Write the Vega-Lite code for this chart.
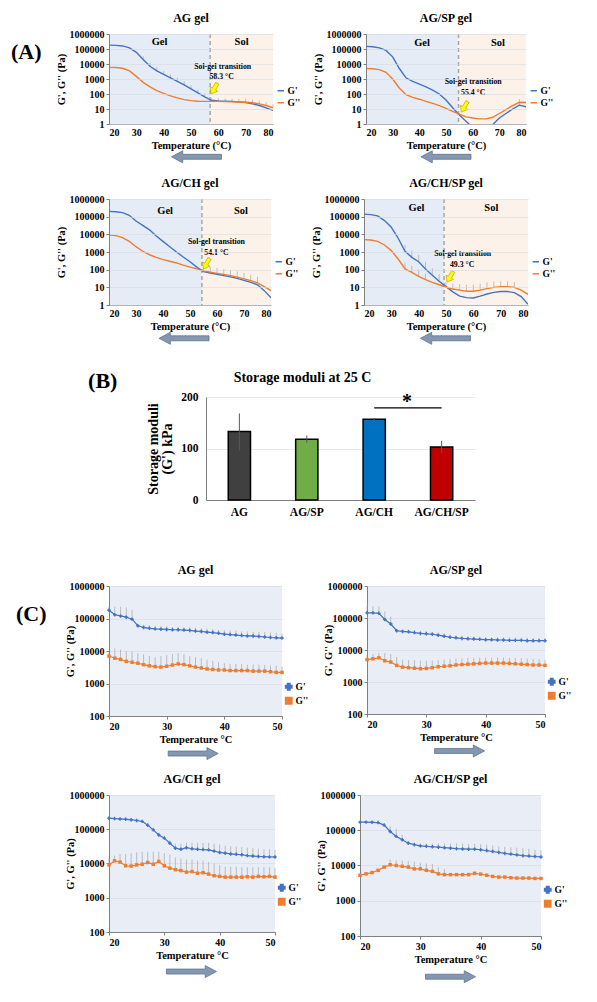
{
"$schema":"https://vega.github.io/schema/vega-lite/v6.json",
"padding":{"left":10,"top":12,"right":2,"bottom":2},
"background":"#ffffff",
"spacing":24,
"resolve":{"scale":{"color":"independent","shape":"independent"},"legend":{"color":"independent","shape":"independent"}},
"datasets":{
"reg":[
{"p":"A1","r":"Gel","t":20,"t2":57},{"p":"A1","r":"Sol","t":57,"t2":80},
{"p":"A2","r":"Gel","t":20,"t2":54.7},{"p":"A2","r":"Sol","t":54.7,"t2":80},
{"p":"A3","r":"Gel","t":20,"t2":54.4},{"p":"A3","r":"Sol","t":54.4,"t2":80},
{"p":"A4","r":"Gel","t":20,"t2":49.3},{"p":"A4","r":"Sol","t":49.3,"t2":80}
],
"ann":[
{"p":"A1","k":"r","t":38.5,"v":300000,"lab":"Gel"},{"p":"A1","k":"r","t":68.5,"v":300000,"lab":"Sol"},
{"p":"A1","k":"s","t":61.6,"v":6600,"lab":"Sol-gel transition"},{"p":"A1","k":"s","t":61.2,"v":1300,"lab":"58.3 °C"},
{"p":"A2","k":"r","t":41,"v":260000,"lab":"Gel"},{"p":"A2","k":"r","t":69.5,"v":260000,"lab":"Sol"},
{"p":"A2","k":"s","t":60.2,"v":600,"lab":"Sol-gel transition"},{"p":"A2","k":"s","t":60.2,"v":110,"lab":"55.4 °C"},
{"p":"A3","k":"r","t":40.8,"v":200000,"lab":"Gel"},{"p":"A3","k":"r","t":68.9,"v":200000,"lab":"Sol"},
{"p":"A3","k":"s","t":59.8,"v":3800,"lab":"Sol-gel transition"},{"p":"A3","k":"s","t":59.8,"v":900,"lab":"54.1 °C"},
{"p":"A4","k":"r","t":39.2,"v":330000,"lab":"Gel"},{"p":"A4","k":"r","t":66.6,"v":330000,"lab":"Sol"},
{"p":"A4","k":"s","t":56.1,"v":800,"lab":"Sol-gel transition"},{"p":"A4","k":"s","t":55.9,"v":190,"lab":"49.3 °C"}
],
"yel":[
{"p":"A1","t":58.5,"v":230},{"p":"A2","t":56.9,"v":14},{"p":"A3","t":56.1,"v":220},{"p":"A4","t":51.5,"v":40}
],
"arr":[
{"p":"A1","t":52,"v":0.0065},{"p":"A2","t":50,"v":0.0065},{"p":"A3","t":47.8,"v":0.013},{"p":"A4","t":49.8,"v":0.013},
{"p":"C1","t":34.6,"v":7},{"p":"C2","t":35.6,"v":7},{"p":"C3","t":34.9,"v":7},{"p":"C4","t":35,"v":7}
],
"bars":[
{"g":"AG","v":133,"lo":96,"hi":168},
{"g":"AG/SP","v":118,"lo":111,"hi":125},
{"g":"AG/CH","v":157,"lo":155,"hi":159},
{"g":"AG/CH/SP","v":103,"lo":91,"hi":115}
],
"cur":[
{"p":"A1","s":"G'","t":20,"v":180000},{"p":"A1","s":"G'","t":22.5,"v":175000},{"p":"A1","s":"G'","t":25,"v":160000},{"p":"A1","s":"G'","t":27.5,"v":120000},{"p":"A1","s":"G'","t":30,"v":60000},{"p":"A1","s":"G'","t":32.5,"v":20000,"h":32000},{"p":"A1","s":"G'","t":35,"v":7000,"h":12000},{"p":"A1","s":"G'","t":37.5,"v":3500,"h":6000},{"p":"A1","s":"G'","t":40,"v":2000,"h":3400},{"p":"A1","s":"G'","t":42.5,"v":1200,"h":2000},{"p":"A1","s":"G'","t":45,"v":700,"h":1200},{"p":"A1","s":"G'","t":47.5,"v":400,"h":700},{"p":"A1","s":"G'","t":50,"v":220,"h":380},{"p":"A1","s":"G'","t":52.5,"v":120,"h":200},{"p":"A1","s":"G'","t":55,"v":65,"h":110},{"p":"A1","s":"G'","t":57.5,"v":38},{"p":"A1","s":"G'","t":60,"v":34},{"p":"A1","s":"G'","t":62.5,"v":33},{"p":"A1","s":"G'","t":65,"v":32},{"p":"A1","s":"G'","t":67.5,"v":30},{"p":"A1","s":"G'","t":70,"v":27},{"p":"A1","s":"G'","t":72.5,"v":22},{"p":"A1","s":"G'","t":75,"v":17},{"p":"A1","s":"G'","t":77.5,"v":12},{"p":"A1","s":"G'","t":80,"v":8},
{"p":"A1","s":"G''","t":20,"v":6000},{"p":"A1","s":"G''","t":22.5,"v":5800},{"p":"A1","s":"G''","t":25,"v":5200},{"p":"A1","s":"G''","t":27.5,"v":3500},{"p":"A1","s":"G''","t":30,"v":1500},{"p":"A1","s":"G''","t":32.5,"v":600},{"p":"A1","s":"G''","t":35,"v":300},{"p":"A1","s":"G''","t":37.5,"v":170},{"p":"A1","s":"G''","t":40,"v":110},{"p":"A1","s":"G''","t":42.5,"v":75},{"p":"A1","s":"G''","t":45,"v":55},{"p":"A1","s":"G''","t":47.5,"v":42},{"p":"A1","s":"G''","t":50,"v":36},{"p":"A1","s":"G''","t":52.5,"v":33},{"p":"A1","s":"G''","t":55,"v":32},{"p":"A1","s":"G''","t":57.5,"v":32,"h":52},{"p":"A1","s":"G''","t":60,"v":32,"h":52},{"p":"A1","s":"G''","t":62.5,"v":31,"h":50},{"p":"A1","s":"G''","t":65,"v":30,"h":50},{"p":"A1","s":"G''","t":67.5,"v":29,"h":48},{"p":"A1","s":"G''","t":70,"v":28,"h":46},{"p":"A1","s":"G''","t":72.5,"v":26,"h":42},{"p":"A1","s":"G''","t":75,"v":22,"h":36},{"p":"A1","s":"G''","t":77.5,"v":17,"h":28},{"p":"A1","s":"G''","t":80,"v":12,"h":20},
{"p":"A2","s":"G'","t":20,"v":150000},{"p":"A2","s":"G'","t":22.5,"v":140000},{"p":"A2","s":"G'","t":25,"v":120000},{"p":"A2","s":"G'","t":27.5,"v":80000},{"p":"A2","s":"G'","t":30,"v":30000},{"p":"A2","s":"G'","t":32.5,"v":5000},{"p":"A2","s":"G'","t":35,"v":1200},{"p":"A2","s":"G'","t":37.5,"v":700},{"p":"A2","s":"G'","t":40,"v":450},{"p":"A2","s":"G'","t":42.5,"v":300},{"p":"A2","s":"G'","t":45,"v":180},{"p":"A2","s":"G'","t":47.5,"v":100},{"p":"A2","s":"G'","t":50,"v":40},{"p":"A2","s":"G'","t":52.5,"v":12},{"p":"A2","s":"G'","t":55,"v":4},{"p":"A2","s":"G'","t":57.5,"v":1.5},{"p":"A2","s":"G'","t":60,"v":0.6},{"p":"A2","s":"G'","t":62.5,"v":0.3},{"p":"A2","s":"G'","t":65,"v":0.3},{"p":"A2","s":"G'","t":67.5,"v":0.9},{"p":"A2","s":"G'","t":70,"v":2.5},{"p":"A2","s":"G'","t":72.5,"v":5},{"p":"A2","s":"G'","t":75,"v":10},{"p":"A2","s":"G'","t":77.5,"v":18,"h":28},{"p":"A2","s":"G'","t":80,"v":14},
{"p":"A2","s":"G''","t":20,"v":5000},{"p":"A2","s":"G''","t":22.5,"v":4800},{"p":"A2","s":"G''","t":25,"v":4200},{"p":"A2","s":"G''","t":27.5,"v":2800},{"p":"A2","s":"G''","t":30,"v":1000},{"p":"A2","s":"G''","t":32.5,"v":250},{"p":"A2","s":"G''","t":35,"v":90},{"p":"A2","s":"G''","t":37.5,"v":60},{"p":"A2","s":"G''","t":40,"v":45},{"p":"A2","s":"G''","t":42.5,"v":32},{"p":"A2","s":"G''","t":45,"v":24},{"p":"A2","s":"G''","t":47.5,"v":17},{"p":"A2","s":"G''","t":50,"v":11},{"p":"A2","s":"G''","t":52.5,"v":7},{"p":"A2","s":"G''","t":55,"v":4.5},{"p":"A2","s":"G''","t":57.5,"v":3},{"p":"A2","s":"G''","t":60,"v":2.5},{"p":"A2","s":"G''","t":62.5,"v":2.2},{"p":"A2","s":"G''","t":65,"v":2.2},{"p":"A2","s":"G''","t":67.5,"v":2.8},{"p":"A2","s":"G''","t":70,"v":5},{"p":"A2","s":"G''","t":72.5,"v":9},{"p":"A2","s":"G''","t":75,"v":17},{"p":"A2","s":"G''","t":77.5,"v":28,"h":45},{"p":"A2","s":"G''","t":80,"v":27},
{"p":"A3","s":"G'","t":20,"v":200000},{"p":"A3","s":"G'","t":22.5,"v":190000},{"p":"A3","s":"G'","t":25,"v":170000},{"p":"A3","s":"G'","t":27.5,"v":120000},{"p":"A3","s":"G'","t":30,"v":57000},{"p":"A3","s":"G'","t":32.5,"v":32000},{"p":"A3","s":"G'","t":35,"v":18000},{"p":"A3","s":"G'","t":37.5,"v":8000},{"p":"A3","s":"G'","t":40,"v":4000},{"p":"A3","s":"G'","t":42.5,"v":2000},{"p":"A3","s":"G'","t":45,"v":1000},{"p":"A3","s":"G'","t":47.5,"v":520},{"p":"A3","s":"G'","t":50,"v":280},{"p":"A3","s":"G'","t":52.5,"v":140},{"p":"A3","s":"G'","t":55,"v":78},{"p":"A3","s":"G'","t":57.5,"v":65},{"p":"A3","s":"G'","t":60,"v":55},{"p":"A3","s":"G'","t":62.5,"v":46},{"p":"A3","s":"G'","t":65,"v":39},{"p":"A3","s":"G'","t":67.5,"v":32},{"p":"A3","s":"G'","t":70,"v":25},{"p":"A3","s":"G'","t":72.5,"v":19},{"p":"A3","s":"G'","t":75,"v":14},{"p":"A3","s":"G'","t":77.5,"v":6.5},{"p":"A3","s":"G'","t":80,"v":2.6},
{"p":"A3","s":"G''","t":20,"v":9000},{"p":"A3","s":"G''","t":22.5,"v":8500},{"p":"A3","s":"G''","t":25,"v":6500},{"p":"A3","s":"G''","t":27.5,"v":4000},{"p":"A3","s":"G''","t":30,"v":2000},{"p":"A3","s":"G''","t":32.5,"v":1100},{"p":"A3","s":"G''","t":35,"v":700},{"p":"A3","s":"G''","t":37.5,"v":500},{"p":"A3","s":"G''","t":40,"v":370},{"p":"A3","s":"G''","t":42.5,"v":300},{"p":"A3","s":"G''","t":45,"v":240},{"p":"A3","s":"G''","t":47.5,"v":180},{"p":"A3","s":"G''","t":50,"v":140},{"p":"A3","s":"G''","t":52.5,"v":110},{"p":"A3","s":"G''","t":55,"v":85,"h":150},{"p":"A3","s":"G''","t":57.5,"v":72,"h":140},{"p":"A3","s":"G''","t":60,"v":62,"h":125},{"p":"A3","s":"G''","t":62.5,"v":54,"h":110},{"p":"A3","s":"G''","t":65,"v":46,"h":95},{"p":"A3","s":"G''","t":67.5,"v":38,"h":80},{"p":"A3","s":"G''","t":70,"v":30,"h":65},{"p":"A3","s":"G''","t":72.5,"v":24,"h":52},{"p":"A3","s":"G''","t":75,"v":18,"h":40},{"p":"A3","s":"G''","t":77.5,"v":11},{"p":"A3","s":"G''","t":80,"v":6.5},
{"p":"A4","s":"G'","t":20,"v":140000},{"p":"A4","s":"G'","t":22.5,"v":130000},{"p":"A4","s":"G'","t":25,"v":110000},{"p":"A4","s":"G'","t":27.5,"v":60000},{"p":"A4","s":"G'","t":30,"v":25000},{"p":"A4","s":"G'","t":32.5,"v":6000},{"p":"A4","s":"G'","t":35,"v":1100,"h":2500},{"p":"A4","s":"G'","t":37.5,"v":500,"h":1200},{"p":"A4","s":"G'","t":40,"v":280,"h":700},{"p":"A4","s":"G'","t":42.5,"v":110,"h":280},{"p":"A4","s":"G'","t":45,"v":48,"h":120},{"p":"A4","s":"G'","t":47.5,"v":22,"h":55},{"p":"A4","s":"G'","t":50,"v":11},{"p":"A4","s":"G'","t":52.5,"v":5.5},{"p":"A4","s":"G'","t":55,"v":3.2},{"p":"A4","s":"G'","t":57.5,"v":2.6},{"p":"A4","s":"G'","t":60,"v":2.5},{"p":"A4","s":"G'","t":62.5,"v":3.2},{"p":"A4","s":"G'","t":65,"v":4.2},{"p":"A4","s":"G'","t":67.5,"v":5.2},{"p":"A4","s":"G'","t":70,"v":5.8},{"p":"A4","s":"G'","t":72.5,"v":5.8},{"p":"A4","s":"G'","t":75,"v":5},{"p":"A4","s":"G'","t":77.5,"v":3},{"p":"A4","s":"G'","t":80,"v":1.1},
{"p":"A4","s":"G''","t":20,"v":5000},{"p":"A4","s":"G''","t":22.5,"v":4800},{"p":"A4","s":"G''","t":25,"v":4000},{"p":"A4","s":"G''","t":27.5,"v":2500},{"p":"A4","s":"G''","t":30,"v":1200},{"p":"A4","s":"G''","t":32.5,"v":400},{"p":"A4","s":"G''","t":35,"v":110,"h":250},{"p":"A4","s":"G''","t":37.5,"v":70,"h":160},{"p":"A4","s":"G''","t":40,"v":42,"h":100},{"p":"A4","s":"G''","t":42.5,"v":27,"h":60},{"p":"A4","s":"G''","t":45,"v":19},{"p":"A4","s":"G''","t":47.5,"v":14},{"p":"A4","s":"G''","t":50,"v":10.5,"h":20},{"p":"A4","s":"G''","t":52.5,"v":8,"h":16},{"p":"A4","s":"G''","t":55,"v":7,"h":15},{"p":"A4","s":"G''","t":57.5,"v":6,"h":14},{"p":"A4","s":"G''","t":60,"v":6,"h":14},{"p":"A4","s":"G''","t":62.5,"v":7,"h":16},{"p":"A4","s":"G''","t":65,"v":8.5,"h":19},{"p":"A4","s":"G''","t":67.5,"v":10,"h":21},{"p":"A4","s":"G''","t":70,"v":11,"h":22},{"p":"A4","s":"G''","t":72.5,"v":11,"h":22},{"p":"A4","s":"G''","t":75,"v":10,"h":20},{"p":"A4","s":"G''","t":77.5,"v":7},{"p":"A4","s":"G''","t":80,"v":4},
{"p":"C1","s":"G'","t":20,"v":180000,"h":240000},{"p":"C1","s":"G'","t":21,"v":130000,"h":230000},{"p":"C1","s":"G'","t":22,"v":120000,"h":230000},{"p":"C1","s":"G'","t":23,"v":110000,"h":220000},{"p":"C1","s":"G'","t":24,"v":95000,"h":180000},{"p":"C1","s":"G'","t":25,"v":60000,"h":70000},{"p":"C1","s":"G'","t":26,"v":53000,"h":65000},{"p":"C1","s":"G'","t":27,"v":50000,"h":62000},{"p":"C1","s":"G'","t":28,"v":48000,"h":60000},{"p":"C1","s":"G'","t":29,"v":47000,"h":58000},{"p":"C1","s":"G'","t":30,"v":46000,"h":57000},{"p":"C1","s":"G'","t":31,"v":45000,"h":55000},{"p":"C1","s":"G'","t":32,"v":45000,"h":55000},{"p":"C1","s":"G'","t":33,"v":44000,"h":54000},{"p":"C1","s":"G'","t":34,"v":43000,"h":53000},{"p":"C1","s":"G'","t":35,"v":41000,"h":52000},{"p":"C1","s":"G'","t":36,"v":40000,"h":50000},{"p":"C1","s":"G'","t":37,"v":38000,"h":48000},{"p":"C1","s":"G'","t":38,"v":37000,"h":47000},{"p":"C1","s":"G'","t":39,"v":35000,"h":45000},{"p":"C1","s":"G'","t":40,"v":33000,"h":44000},{"p":"C1","s":"G'","t":41,"v":32000,"h":43000},{"p":"C1","s":"G'","t":42,"v":31000,"h":42000},{"p":"C1","s":"G'","t":43,"v":30000,"h":40000},{"p":"C1","s":"G'","t":44,"v":29000,"h":40000},{"p":"C1","s":"G'","t":45,"v":29000,"h":39000},{"p":"C1","s":"G'","t":46,"v":28000,"h":39000},{"p":"C1","s":"G'","t":47,"v":27000,"h":38000},{"p":"C1","s":"G'","t":48,"v":26000,"h":37000},{"p":"C1","s":"G'","t":49,"v":25500,"h":36000},{"p":"C1","s":"G'","t":50,"v":25000,"h":35000},
{"p":"C1","s":"G''","t":20,"v":7000,"h":9000},{"p":"C1","s":"G''","t":21,"v":6000,"h":12000},{"p":"C1","s":"G''","t":22,"v":5500,"h":11000},{"p":"C1","s":"G''","t":23,"v":4800,"h":10000},{"p":"C1","s":"G''","t":24,"v":4500,"h":9500},{"p":"C1","s":"G''","t":25,"v":4200,"h":8500},{"p":"C1","s":"G''","t":26,"v":3800,"h":8000},{"p":"C1","s":"G''","t":27,"v":3500,"h":7000},{"p":"C1","s":"G''","t":28,"v":3300,"h":6500},{"p":"C1","s":"G''","t":29,"v":3200,"h":7000},{"p":"C1","s":"G''","t":30,"v":3400,"h":7500},{"p":"C1","s":"G''","t":31,"v":3700,"h":8000},{"p":"C1","s":"G''","t":32,"v":4000,"h":8500},{"p":"C1","s":"G''","t":33,"v":3800,"h":8000},{"p":"C1","s":"G''","t":34,"v":3500,"h":7000},{"p":"C1","s":"G''","t":35,"v":3200,"h":6500},{"p":"C1","s":"G''","t":36,"v":3000,"h":6000},{"p":"C1","s":"G''","t":37,"v":2800,"h":5500},{"p":"C1","s":"G''","t":38,"v":2700,"h":5000},{"p":"C1","s":"G''","t":39,"v":2600,"h":4500},{"p":"C1","s":"G''","t":40,"v":2600,"h":4200},{"p":"C1","s":"G''","t":41,"v":2500,"h":4000},{"p":"C1","s":"G''","t":42,"v":2500,"h":4000},{"p":"C1","s":"G''","t":43,"v":2500,"h":4000},{"p":"C1","s":"G''","t":44,"v":2500,"h":3800},{"p":"C1","s":"G''","t":45,"v":2400,"h":3800},{"p":"C1","s":"G''","t":46,"v":2400,"h":3800},{"p":"C1","s":"G''","t":47,"v":2400,"h":3700},{"p":"C1","s":"G''","t":48,"v":2300,"h":3600},{"p":"C1","s":"G''","t":49,"v":2200,"h":3500},{"p":"C1","s":"G''","t":50,"v":2200,"h":3300},
{"p":"C2","s":"G'","t":20,"v":145000,"h":230000},{"p":"C2","s":"G'","t":21,"v":145000,"h":230000},{"p":"C2","s":"G'","t":22,"v":140000,"h":230000},{"p":"C2","s":"G'","t":23,"v":90000,"h":160000},{"p":"C2","s":"G'","t":24,"v":65000,"h":110000},{"p":"C2","s":"G'","t":25,"v":40000,"h":46000},{"p":"C2","s":"G'","t":26,"v":38000,"h":44000},{"p":"C2","s":"G'","t":27,"v":37000,"h":43000},{"p":"C2","s":"G'","t":28,"v":35000,"h":41000},{"p":"C2","s":"G'","t":29,"v":33000,"h":40000},{"p":"C2","s":"G'","t":30,"v":32000,"h":39000},{"p":"C2","s":"G'","t":31,"v":31000,"h":37000},{"p":"C2","s":"G'","t":32,"v":29000,"h":35000},{"p":"C2","s":"G'","t":33,"v":27000,"h":33000},{"p":"C2","s":"G'","t":34,"v":25000,"h":30000},{"p":"C2","s":"G'","t":35,"v":24000,"h":29000},{"p":"C2","s":"G'","t":36,"v":23000,"h":28000},{"p":"C2","s":"G'","t":37,"v":22500,"h":27000},{"p":"C2","s":"G'","t":38,"v":22000,"h":26500},{"p":"C2","s":"G'","t":39,"v":21500,"h":26000},{"p":"C2","s":"G'","t":40,"v":21000,"h":25500},{"p":"C2","s":"G'","t":41,"v":21000,"h":25000},{"p":"C2","s":"G'","t":42,"v":20500,"h":25000},{"p":"C2","s":"G'","t":43,"v":20500,"h":25000},{"p":"C2","s":"G'","t":44,"v":20000,"h":24500},{"p":"C2","s":"G'","t":45,"v":20000,"h":24500},{"p":"C2","s":"G'","t":46,"v":20000,"h":24500},{"p":"C2","s":"G'","t":47,"v":19500,"h":24000},{"p":"C2","s":"G'","t":48,"v":19500,"h":24000},{"p":"C2","s":"G'","t":49,"v":19500,"h":24000},{"p":"C2","s":"G'","t":50,"v":19500,"h":24000},
{"p":"C2","s":"G''","t":20,"v":5000,"h":7000},{"p":"C2","s":"G''","t":21,"v":5300,"h":7500},{"p":"C2","s":"G''","t":22,"v":5700,"h":8000},{"p":"C2","s":"G''","t":23,"v":4600,"h":8000},{"p":"C2","s":"G''","t":24,"v":4200,"h":7500},{"p":"C2","s":"G''","t":25,"v":3300,"h":6000},{"p":"C2","s":"G''","t":26,"v":2900,"h":5000},{"p":"C2","s":"G''","t":27,"v":2800,"h":4800},{"p":"C2","s":"G''","t":28,"v":2700,"h":4800},{"p":"C2","s":"G''","t":29,"v":2600,"h":4600},{"p":"C2","s":"G''","t":30,"v":2650,"h":4600},{"p":"C2","s":"G''","t":31,"v":2800,"h":4700},{"p":"C2","s":"G''","t":32,"v":3000,"h":4800},{"p":"C2","s":"G''","t":33,"v":3100,"h":5000},{"p":"C2","s":"G''","t":34,"v":3200,"h":5200},{"p":"C2","s":"G''","t":35,"v":3400,"h":5400},{"p":"C2","s":"G''","t":36,"v":3500,"h":5500},{"p":"C2","s":"G''","t":37,"v":3600,"h":5600},{"p":"C2","s":"G''","t":38,"v":3700,"h":5700},{"p":"C2","s":"G''","t":39,"v":3800,"h":5800},{"p":"C2","s":"G''","t":40,"v":3900,"h":5800},{"p":"C2","s":"G''","t":41,"v":3900,"h":5800},{"p":"C2","s":"G''","t":42,"v":3900,"h":5800},{"p":"C2","s":"G''","t":43,"v":3900,"h":5800},{"p":"C2","s":"G''","t":44,"v":3800,"h":5700},{"p":"C2","s":"G''","t":45,"v":3700,"h":5600},{"p":"C2","s":"G''","t":46,"v":3600,"h":5500},{"p":"C2","s":"G''","t":47,"v":3500,"h":5400},{"p":"C2","s":"G''","t":48,"v":3400,"h":5300},{"p":"C2","s":"G''","t":49,"v":3400,"h":5200},{"p":"C2","s":"G''","t":50,"v":3300,"h":5000},
{"p":"C3","s":"G'","t":20,"v":210000},{"p":"C3","s":"G'","t":21,"v":205000},{"p":"C3","s":"G'","t":22,"v":200000},{"p":"C3","s":"G'","t":23,"v":195000},{"p":"C3","s":"G'","t":24,"v":190000},{"p":"C3","s":"G'","t":25,"v":180000},{"p":"C3","s":"G'","t":26,"v":170000},{"p":"C3","s":"G'","t":27,"v":130000,"h":150000},{"p":"C3","s":"G'","t":28,"v":96000,"h":110000},{"p":"C3","s":"G'","t":29,"v":68000,"h":80000},{"p":"C3","s":"G'","t":30,"v":55000,"h":65000},{"p":"C3","s":"G'","t":31,"v":39000,"h":48000},{"p":"C3","s":"G'","t":32,"v":28000,"h":38000},{"p":"C3","s":"G'","t":33,"v":26000,"h":38000},{"p":"C3","s":"G'","t":34,"v":29000,"h":40000},{"p":"C3","s":"G'","t":35,"v":27000,"h":40000},{"p":"C3","s":"G'","t":36,"v":26000,"h":40000},{"p":"C3","s":"G'","t":37,"v":25500,"h":40000},{"p":"C3","s":"G'","t":38,"v":25000,"h":40000},{"p":"C3","s":"G'","t":39,"v":23000,"h":38000},{"p":"C3","s":"G'","t":40,"v":21000,"h":36000},{"p":"C3","s":"G'","t":41,"v":20000,"h":33000},{"p":"C3","s":"G'","t":42,"v":19000,"h":32000},{"p":"C3","s":"G'","t":43,"v":18500,"h":31000},{"p":"C3","s":"G'","t":44,"v":18000,"h":30000},{"p":"C3","s":"G'","t":45,"v":17000,"h":29000},{"p":"C3","s":"G'","t":46,"v":16500,"h":28000},{"p":"C3","s":"G'","t":47,"v":16000,"h":27000},{"p":"C3","s":"G'","t":48,"v":15800,"h":26000},{"p":"C3","s":"G'","t":49,"v":15600,"h":26000},{"p":"C3","s":"G'","t":50,"v":15500,"h":25000},
{"p":"C3","s":"G''","t":20,"v":9100,"h":14000},{"p":"C3","s":"G''","t":21,"v":12000,"h":17000},{"p":"C3","s":"G''","t":22,"v":11000,"h":19000},{"p":"C3","s":"G''","t":23,"v":8600,"h":19000},{"p":"C3","s":"G''","t":24,"v":8400,"h":20000},{"p":"C3","s":"G''","t":25,"v":9100,"h":21000},{"p":"C3","s":"G''","t":26,"v":9500,"h":22000},{"p":"C3","s":"G''","t":27,"v":10700,"h":22000},{"p":"C3","s":"G''","t":28,"v":9500,"h":22000},{"p":"C3","s":"G''","t":29,"v":11500,"h":22000},{"p":"C3","s":"G''","t":30,"v":8600,"h":20000},{"p":"C3","s":"G''","t":31,"v":7300,"h":18000},{"p":"C3","s":"G''","t":32,"v":6600,"h":15000},{"p":"C3","s":"G''","t":33,"v":6200,"h":14000},{"p":"C3","s":"G''","t":34,"v":5600,"h":13000},{"p":"C3","s":"G''","t":35,"v":5800,"h":13000},{"p":"C3","s":"G''","t":36,"v":5200,"h":12000},{"p":"C3","s":"G''","t":37,"v":5400,"h":12000},{"p":"C3","s":"G''","t":38,"v":4900,"h":11000},{"p":"C3","s":"G''","t":39,"v":4400,"h":10000},{"p":"C3","s":"G''","t":40,"v":4200,"h":9000},{"p":"C3","s":"G''","t":41,"v":4000,"h":8000},{"p":"C3","s":"G''","t":42,"v":4000,"h":8000},{"p":"C3","s":"G''","t":43,"v":4000,"h":8000},{"p":"C3","s":"G''","t":44,"v":4000,"h":7800},{"p":"C3","s":"G''","t":45,"v":4100,"h":7800},{"p":"C3","s":"G''","t":46,"v":4000,"h":7800},{"p":"C3","s":"G''","t":47,"v":4200,"h":7800},{"p":"C3","s":"G''","t":48,"v":4100,"h":7800},{"p":"C3","s":"G''","t":49,"v":4200,"h":7800},{"p":"C3","s":"G''","t":50,"v":4000,"h":7500},
{"p":"C4","s":"G'","t":20,"v":170000},{"p":"C4","s":"G'","t":21,"v":170000},{"p":"C4","s":"G'","t":22,"v":168000},{"p":"C4","s":"G'","t":23,"v":165000},{"p":"C4","s":"G'","t":24,"v":140000},{"p":"C4","s":"G'","t":25,"v":92000,"h":130000},{"p":"C4","s":"G'","t":26,"v":67000,"h":110000},{"p":"C4","s":"G'","t":27,"v":54000,"h":75000},{"p":"C4","s":"G'","t":28,"v":43000,"h":50000},{"p":"C4","s":"G'","t":29,"v":39000,"h":45000},{"p":"C4","s":"G'","t":30,"v":36000,"h":42000},{"p":"C4","s":"G'","t":31,"v":35000,"h":42000},{"p":"C4","s":"G'","t":32,"v":34000,"h":42000},{"p":"C4","s":"G'","t":33,"v":33000,"h":42000},{"p":"C4","s":"G'","t":34,"v":32000,"h":42000},{"p":"C4","s":"G'","t":35,"v":31000,"h":42000},{"p":"C4","s":"G'","t":36,"v":30000,"h":42000},{"p":"C4","s":"G'","t":37,"v":29500,"h":42000},{"p":"C4","s":"G'","t":38,"v":29000,"h":41000},{"p":"C4","s":"G'","t":39,"v":29000,"h":41000},{"p":"C4","s":"G'","t":40,"v":28000,"h":40000},{"p":"C4","s":"G'","t":41,"v":26500,"h":39000},{"p":"C4","s":"G'","t":42,"v":25000,"h":37000},{"p":"C4","s":"G'","t":43,"v":23500,"h":35000},{"p":"C4","s":"G'","t":44,"v":22000,"h":34000},{"p":"C4","s":"G'","t":45,"v":21000,"h":33000},{"p":"C4","s":"G'","t":46,"v":20000,"h":32000},{"p":"C4","s":"G'","t":47,"v":19000,"h":31000},{"p":"C4","s":"G'","t":48,"v":18500,"h":30000},{"p":"C4","s":"G'","t":49,"v":18000,"h":28000},{"p":"C4","s":"G'","t":50,"v":17500,"h":27000},
{"p":"C4","s":"G''","t":20,"v":5300},{"p":"C4","s":"G''","t":21,"v":5800},{"p":"C4","s":"G''","t":22,"v":6300},{"p":"C4","s":"G''","t":23,"v":7300},{"p":"C4","s":"G''","t":24,"v":9000},{"p":"C4","s":"G''","t":25,"v":10500,"h":15000},{"p":"C4","s":"G''","t":26,"v":10000,"h":14000},{"p":"C4","s":"G''","t":27,"v":9500,"h":14000},{"p":"C4","s":"G''","t":28,"v":9000,"h":13500},{"p":"C4","s":"G''","t":29,"v":8000,"h":13000},{"p":"C4","s":"G''","t":30,"v":8000,"h":12000},{"p":"C4","s":"G''","t":31,"v":7300,"h":11500},{"p":"C4","s":"G''","t":32,"v":6800,"h":11000},{"p":"C4","s":"G''","t":33,"v":5800,"h":9000},{"p":"C4","s":"G''","t":34,"v":5500,"h":8000},{"p":"C4","s":"G''","t":35,"v":5500},{"p":"C4","s":"G''","t":36,"v":5500},{"p":"C4","s":"G''","t":37,"v":5500},{"p":"C4","s":"G''","t":38,"v":5500},{"p":"C4","s":"G''","t":39,"v":6000},{"p":"C4","s":"G''","t":40,"v":5700},{"p":"C4","s":"G''","t":41,"v":5300},{"p":"C4","s":"G''","t":42,"v":4900},{"p":"C4","s":"G''","t":43,"v":4700},{"p":"C4","s":"G''","t":44,"v":4700},{"p":"C4","s":"G''","t":45,"v":4500},{"p":"C4","s":"G''","t":46,"v":4400},{"p":"C4","s":"G''","t":47,"v":4400},{"p":"C4","s":"G''","t":48,"v":4400},{"p":"C4","s":"G''","t":49,"v":4300},{"p":"C4","s":"G''","t":50,"v":4300}
]
},
"vconcat":[
{"title":{"text":"(A)","orient":"left","angle":0,"anchor":"end","fontSize":22,"align":"right","baseline":"top","offset":6,"dy":30,"dx":22},
 "spacing":12,
 "resolve":{"scale":{"color":"independent","shape":"independent"},"legend":{"color":"independent","shape":"independent"}},
 "vconcat":[
 {"hconcat":[
  {"width":164,"height":90,"title":"AG gel",
   "layer":[
    {"data":{"name":"reg"},"transform":[{"filter":"datum.p=='A1'"}],"mark":{"type":"rect"},
     "encoding":{"x":{"field":"t","type":"quantitative","scale":{"domain":[20,80],"nice":false}},"x2":{"field":"t2"},
      "y":{"datum":1,"type":"quantitative","scale":{"type":"log","domain":[1,1000000]}},"y2":{"datum":1000000},
      "fill":{"condition":{"test":"datum.r=='Gel'","value":"#e6ecf6"},"value":"#fcf2ea"}}},
    {"data":{"values":[{"t":57}]},"mark":{"type":"rule","strokeDash":[4,3],"color":"#a6a6a6","strokeWidth":1.5},"encoding":{"x":{"field":"t","type":"quantitative"}}},
    {"data":{"name":"cur"},"transform":[{"filter":"datum.p=='A1' && datum.h != null"}],"mark":{"type":"rule","color":"#9a9a9a","strokeWidth":0.6},"encoding":{"x":{"field":"t","type":"quantitative"},"y":{"field":"v","type":"quantitative"},"y2":{"field":"h"}}},
    {"data":{"name":"cur"},"transform":[{"filter":"datum.p=='A1'"}],"mark":{"type":"line","strokeWidth":1.4,"clip":true},
     "encoding":{"x":{"field":"t","type":"quantitative","scale":{"domain":[20,80],"nice":false},"axis":{"values":[20,30,40,50,60,70,80],"tickCount":7,"labelOverlap":false,"grid":false,"ticks":false,"labelPadding":3,"title":"Temperature (°C)"}},"y":{"field":"v","type":"quantitative","axis":{"values":[1,10,100,1000,10000,100000,1000000],"format":"d","labelOverlap":false,"grid":true,"zindex":1,"tickSize":3,"title":"G', G'' (Pa)"}},"color":{"field":"s","type":"nominal","scale":{"domain":["G'","G''"],"range":["#4472c4","#ed7d31"]},"legend":{"orient":"none","legendX":167,"legendY":52,"title":null,"symbolType":"stroke"}}}},
    {"data":{"name":"ann"},"transform":[{"filter":"datum.p=='A1' && datum.k=='r'"}],"mark":{"type":"text","fontSize":10.5,"fontWeight":"bold","color":"#000000"},"encoding":{"x":{"field":"t","type":"quantitative"},"y":{"field":"v","type":"quantitative"},"text":{"field":"lab"}}},
    {"data":{"name":"ann"},"transform":[{"filter":"datum.p=='A1' && datum.k=='s'"}],"mark":{"type":"text","fontSize":7.8,"fontWeight":"bold","color":"#000000"},"encoding":{"x":{"field":"t","type":"quantitative"},"y":{"field":"v","type":"quantitative"},"text":{"field":"lab"}}},
    {"data":{"name":"yel"},"transform":[{"filter":"datum.p=='A1'"}],"mark":{"type":"point","shape":"M-0.3,-1L0.3,-1L0.3,0.1L0.7,0.1L0,1L-0.7,0.1L-0.3,0.1Z","angle":30,"size":150,"filled":true,"fill":"#ffff00","stroke":"#b8a000","strokeWidth":0.6,"opacity":1},"encoding":{"x":{"field":"t","type":"quantitative"},"y":{"field":"v","type":"quantitative"}}},
    {"data":{"name":"arr"},"transform":[{"filter":"datum.p=='A1'"}],"mark":{"type":"point","shape":"M1,-0.1L-0.55,-0.1L-0.55,-0.24L-1,0L-0.55,0.24L-0.55,0.1L1,0.1Z","size":2500,"filled":true,"fill":"#8497b0","stroke":"#5f7594","strokeWidth":0.8,"opacity":1,"clip":false},"encoding":{"x":{"field":"t","type":"quantitative"},"y":{"field":"v","type":"quantitative"}}}
   ]},
  {"width":160,"height":90,"title":"AG/SP gel",
   "layer":[
    {"data":{"name":"reg"},"transform":[{"filter":"datum.p=='A2'"}],"mark":{"type":"rect"},
     "encoding":{"x":{"field":"t","type":"quantitative","scale":{"domain":[20,80],"nice":false}},"x2":{"field":"t2"},
      "y":{"datum":1,"type":"quantitative","scale":{"type":"log","domain":[1,1000000]}},"y2":{"datum":1000000},
      "fill":{"condition":{"test":"datum.r=='Gel'","value":"#e6ecf6"},"value":"#fcf2ea"}}},
    {"data":{"values":[{"t":54.7}]},"mark":{"type":"rule","strokeDash":[4,3],"color":"#a6a6a6","strokeWidth":1.5},"encoding":{"x":{"field":"t","type":"quantitative"}}},
    {"data":{"name":"cur"},"transform":[{"filter":"datum.p=='A2' && datum.h != null"}],"mark":{"type":"rule","color":"#9a9a9a","strokeWidth":0.6},"encoding":{"x":{"field":"t","type":"quantitative"},"y":{"field":"v","type":"quantitative"},"y2":{"field":"h"}}},
    {"data":{"name":"cur"},"transform":[{"filter":"datum.p=='A2'"}],"mark":{"type":"line","strokeWidth":1.4,"clip":true},
     "encoding":{"x":{"field":"t","type":"quantitative","scale":{"domain":[20,80],"nice":false},"axis":{"values":[20,30,40,50,60,70,80],"tickCount":7,"labelOverlap":false,"grid":false,"ticks":false,"labelPadding":3,"title":"Temperature (°C)"}},"y":{"field":"v","type":"quantitative","axis":{"values":[1,10,100,1000,10000,100000,1000000],"format":"d","labelOverlap":false,"grid":true,"zindex":1,"tickSize":3,"title":"G', G'' (Pa)"}},"color":{"field":"s","type":"nominal","scale":{"domain":["G'","G''"],"range":["#4472c4","#ed7d31"]},"legend":{"orient":"none","legendX":163,"legendY":52,"title":null,"symbolType":"stroke"}}}},
    {"data":{"name":"ann"},"transform":[{"filter":"datum.p=='A2' && datum.k=='r'"}],"mark":{"type":"text","fontSize":10.5,"fontWeight":"bold","color":"#000000"},"encoding":{"x":{"field":"t","type":"quantitative"},"y":{"field":"v","type":"quantitative"},"text":{"field":"lab"}}},
    {"data":{"name":"ann"},"transform":[{"filter":"datum.p=='A2' && datum.k=='s'"}],"mark":{"type":"text","fontSize":7.8,"fontWeight":"bold","color":"#000000"},"encoding":{"x":{"field":"t","type":"quantitative"},"y":{"field":"v","type":"quantitative"},"text":{"field":"lab"}}},
    {"data":{"name":"yel"},"transform":[{"filter":"datum.p=='A2'"}],"mark":{"type":"point","shape":"M-0.3,-1L0.3,-1L0.3,0.1L0.7,0.1L0,1L-0.7,0.1L-0.3,0.1Z","angle":30,"size":150,"filled":true,"fill":"#ffff00","stroke":"#b8a000","strokeWidth":0.6,"opacity":1},"encoding":{"x":{"field":"t","type":"quantitative"},"y":{"field":"v","type":"quantitative"}}},
    {"data":{"name":"arr"},"transform":[{"filter":"datum.p=='A2'"}],"mark":{"type":"point","shape":"M1,-0.1L-0.55,-0.1L-0.55,-0.24L-1,0L-0.55,0.24L-0.55,0.1L1,0.1Z","size":2500,"filled":true,"fill":"#8497b0","stroke":"#5f7594","strokeWidth":0.8,"opacity":1,"clip":false},"encoding":{"x":{"field":"t","type":"quantitative"},"y":{"field":"v","type":"quantitative"}}}
   ]}
 ],"spacing":12,"resolve":{"scale":{"color":"independent","shape":"independent"},"legend":{"color":"independent","shape":"independent"}}},
 {"hconcat":[
  {"width":162,"height":106,"title":"AG/CH gel",
   "layer":[
    {"data":{"name":"reg"},"transform":[{"filter":"datum.p=='A3'"}],"mark":{"type":"rect"},
     "encoding":{"x":{"field":"t","type":"quantitative","scale":{"domain":[20,80],"nice":false}},"x2":{"field":"t2"},
      "y":{"datum":1,"type":"quantitative","scale":{"type":"log","domain":[1,1000000]}},"y2":{"datum":1000000},
      "fill":{"condition":{"test":"datum.r=='Gel'","value":"#e6ecf6"},"value":"#fcf2ea"}}},
    {"data":{"values":[{"t":54.4}]},"mark":{"type":"rule","strokeDash":[4,3],"color":"#a6a6a6","strokeWidth":1.5},"encoding":{"x":{"field":"t","type":"quantitative"}}},
    {"data":{"name":"cur"},"transform":[{"filter":"datum.p=='A3' && datum.h != null"}],"mark":{"type":"rule","color":"#9a9a9a","strokeWidth":0.6},"encoding":{"x":{"field":"t","type":"quantitative"},"y":{"field":"v","type":"quantitative"},"y2":{"field":"h"}}},
    {"data":{"name":"cur"},"transform":[{"filter":"datum.p=='A3'"}],"mark":{"type":"line","strokeWidth":1.4,"clip":true},
     "encoding":{"x":{"field":"t","type":"quantitative","scale":{"domain":[20,80],"nice":false},"axis":{"values":[20,30,40,50,60,70,80],"tickCount":7,"labelOverlap":false,"grid":false,"ticks":false,"labelPadding":3,"title":"Temperature (°C)"}},"y":{"field":"v","type":"quantitative","axis":{"values":[1,10,100,1000,10000,100000,1000000],"format":"d","labelOverlap":false,"grid":true,"zindex":1,"tickSize":3,"title":"G', G'' (Pa)"}},"color":{"field":"s","type":"nominal","scale":{"domain":["G'","G''"],"range":["#4472c4","#ed7d31"]},"legend":{"orient":"none","legendX":165,"legendY":58,"title":null,"symbolType":"stroke"}}}},
    {"data":{"name":"ann"},"transform":[{"filter":"datum.p=='A3' && datum.k=='r'"}],"mark":{"type":"text","fontSize":10.5,"fontWeight":"bold","color":"#000000"},"encoding":{"x":{"field":"t","type":"quantitative"},"y":{"field":"v","type":"quantitative"},"text":{"field":"lab"}}},
    {"data":{"name":"ann"},"transform":[{"filter":"datum.p=='A3' && datum.k=='s'"}],"mark":{"type":"text","fontSize":7.8,"fontWeight":"bold","color":"#000000"},"encoding":{"x":{"field":"t","type":"quantitative"},"y":{"field":"v","type":"quantitative"},"text":{"field":"lab"}}},
    {"data":{"name":"yel"},"transform":[{"filter":"datum.p=='A3'"}],"mark":{"type":"point","shape":"M-0.3,-1L0.3,-1L0.3,0.1L0.7,0.1L0,1L-0.7,0.1L-0.3,0.1Z","angle":30,"size":150,"filled":true,"fill":"#ffff00","stroke":"#b8a000","strokeWidth":0.6,"opacity":1},"encoding":{"x":{"field":"t","type":"quantitative"},"y":{"field":"v","type":"quantitative"}}},
    {"data":{"name":"arr"},"transform":[{"filter":"datum.p=='A3'"}],"mark":{"type":"point","shape":"M1,-0.1L-0.55,-0.1L-0.55,-0.24L-1,0L-0.55,0.24L-0.55,0.1L1,0.1Z","size":2500,"filled":true,"fill":"#8497b0","stroke":"#5f7594","strokeWidth":0.8,"opacity":1,"clip":false},"encoding":{"x":{"field":"t","type":"quantitative"},"y":{"field":"v","type":"quantitative"}}}
   ]},
  {"width":164,"height":106,"title":"AG/CH/SP gel",
   "layer":[
    {"data":{"name":"reg"},"transform":[{"filter":"datum.p=='A4'"}],"mark":{"type":"rect"},
     "encoding":{"x":{"field":"t","type":"quantitative","scale":{"domain":[20,80],"nice":false}},"x2":{"field":"t2"},
      "y":{"datum":1,"type":"quantitative","scale":{"type":"log","domain":[1,1000000]}},"y2":{"datum":1000000},
      "fill":{"condition":{"test":"datum.r=='Gel'","value":"#e6ecf6"},"value":"#fcf2ea"}}},
    {"data":{"values":[{"t":49.3}]},"mark":{"type":"rule","strokeDash":[4,3],"color":"#a6a6a6","strokeWidth":1.5},"encoding":{"x":{"field":"t","type":"quantitative"}}},
    {"data":{"name":"cur"},"transform":[{"filter":"datum.p=='A4' && datum.h != null"}],"mark":{"type":"rule","color":"#9a9a9a","strokeWidth":0.6},"encoding":{"x":{"field":"t","type":"quantitative"},"y":{"field":"v","type":"quantitative"},"y2":{"field":"h"}}},
    {"data":{"name":"cur"},"transform":[{"filter":"datum.p=='A4'"}],"mark":{"type":"line","strokeWidth":1.4,"clip":true},
     "encoding":{"x":{"field":"t","type":"quantitative","scale":{"domain":[20,80],"nice":false},"axis":{"values":[20,30,40,50,60,70,80],"tickCount":7,"labelOverlap":false,"grid":false,"ticks":false,"labelPadding":3,"title":"Temperature (°C)"}},"y":{"field":"v","type":"quantitative","axis":{"values":[1,10,100,1000,10000,100000,1000000],"format":"d","labelOverlap":false,"grid":true,"zindex":1,"tickSize":3,"title":"G', G'' (Pa)"}},"color":{"field":"s","type":"nominal","scale":{"domain":["G'","G''"],"range":["#4472c4","#ed7d31"]},"legend":{"orient":"none","legendX":167,"legendY":58,"title":null,"symbolType":"stroke"}}}},
    {"data":{"name":"ann"},"transform":[{"filter":"datum.p=='A4' && datum.k=='r'"}],"mark":{"type":"text","fontSize":10.5,"fontWeight":"bold","color":"#000000"},"encoding":{"x":{"field":"t","type":"quantitative"},"y":{"field":"v","type":"quantitative"},"text":{"field":"lab"}}},
    {"data":{"name":"ann"},"transform":[{"filter":"datum.p=='A4' && datum.k=='s'"}],"mark":{"type":"text","fontSize":7.8,"fontWeight":"bold","color":"#000000"},"encoding":{"x":{"field":"t","type":"quantitative"},"y":{"field":"v","type":"quantitative"},"text":{"field":"lab"}}},
    {"data":{"name":"yel"},"transform":[{"filter":"datum.p=='A4'"}],"mark":{"type":"point","shape":"M-0.3,-1L0.3,-1L0.3,0.1L0.7,0.1L0,1L-0.7,0.1L-0.3,0.1Z","angle":30,"size":150,"filled":true,"fill":"#ffff00","stroke":"#b8a000","strokeWidth":0.6,"opacity":1},"encoding":{"x":{"field":"t","type":"quantitative"},"y":{"field":"v","type":"quantitative"}}},
    {"data":{"name":"arr"},"transform":[{"filter":"datum.p=='A4'"}],"mark":{"type":"point","shape":"M1,-0.1L-0.55,-0.1L-0.55,-0.24L-1,0L-0.55,0.24L-0.55,0.1L1,0.1Z","size":2500,"filled":true,"fill":"#8497b0","stroke":"#5f7594","strokeWidth":0.8,"opacity":1,"clip":false},"encoding":{"x":{"field":"t","type":"quantitative"},"y":{"field":"v","type":"quantitative"}}}
   ]}
 ],"spacing":12,"resolve":{"scale":{"color":"independent","shape":"independent"},"legend":{"color":"independent","shape":"independent"}}}
 ]},
{"spacing":46,"center":true,
 "resolve":{"scale":{"color":"independent","shape":"independent"},"legend":{"color":"independent","shape":"independent"}},
 "vconcat":[
 {"title":{"text":"(B)","orient":"left","angle":0,"anchor":"end","fontSize":22,"align":"right","baseline":"top","offset":0,"dy":0},
  "vconcat":[
  {"width":269,"height":103,"title":{"text":"Storage moduli at 25 C","fontSize":14,"offset":8,"dx":-38,"dy":2},
   "data":{"name":"bars"},
   "layer":[
    {"mark":{"type":"bar","stroke":"#000000","strokeWidth":1.5},
     "encoding":{"x":{"field":"g","type":"nominal","sort":null,"scale":{"domain":["AG","AG/SP","AG/CH","AG/CH/SP"],"paddingInner":0.67,"paddingOuter":0.33},"axis":{"title":null,"labelAngle":0,"labelFontSize":11.5,"ticks":false,"labelPadding":6,"domainColor":"#7f7f7f"}},
      "y":{"field":"v","type":"quantitative","scale":{"domain":[0,200]},"axis":{"values":[0,50,100,150,200],"title":["Storage moduli","(G') kPa"],"titleFontSize":14,"titleLineHeight":14,"labelFontSize":11.5,"grid":true,"ticks":false,"labelPadding":8,"titlePadding":6,"domain":true}},
      "fill":{"field":"g","type":"nominal","scale":{"domain":["AG","AG/SP","AG/CH","AG/CH/SP"],"range":["#404040","#70ad47","#0070c0","#c00000"]},"legend":null}}},
    {"mark":{"type":"rule","color":"#595959","strokeWidth":1},"encoding":{"x":{"field":"g","type":"nominal"},"y":{"field":"lo","type":"quantitative"},"y2":{"field":"hi"}}},
    {"data":{"values":[{"a":"AG/CH","b":"AG/CH/SP","y":179}]},"mark":{"type":"rule","color":"#000000","strokeWidth":1.3},"encoding":{"x":{"field":"a","type":"nominal"},"x2":{"field":"b"},"y":{"field":"y","type":"quantitative"}}},
    {"data":{"values":[{"a":"AG/CH","y":190,"lab":"*"}]},"mark":{"type":"text","fontSize":20,"fontWeight":"bold","baseline":"middle","color":"#000000"},"encoding":{"x":{"field":"a","type":"nominal","bandPosition":1.97},"y":{"field":"y","type":"quantitative"},"text":{"field":"lab"}}}
   ]}
  ]},
{"title":{"text":"(C)","orient":"left","angle":0,"anchor":"end","fontSize":22,"align":"right","baseline":"top","offset":6,"dy":40,"dx":18},
 "spacing":11,
 "resolve":{"scale":{"color":"independent","shape":"independent"},"legend":{"color":"independent","shape":"independent"}},
 "vconcat":[
 {"hconcat":[
  {"width":173,"height":130,"title":"AG gel","view":{"fill":"#e8edf6"},
   "layer":[
    {"data":{"name":"cur"},"transform":[{"filter":"datum.p=='C1' && datum.h != null"}],"mark":{"type":"rule","color":"#9a9a9a","strokeWidth":0.6},
     "encoding":{"x":{"field":"t","type":"quantitative","scale":{"domain":[20,50],"nice":false},"axis":{"values":[20,30,40,50],"grid":false,"tickSize":3,"labelPadding":2},"title":"Temperature °C"},
      "y":{"field":"v","type":"quantitative","scale":{"type":"log","domain":[100,1000000]},"axis":{"values":[100,1000,10000,100000,1000000],"format":"d","grid":true,"tickSize":3,"titlePadding":-6},"title":"G', G'' (Pa)"},"y2":{"field":"h"}}},
    {"data":{"name":"cur"},"transform":[{"filter":"datum.p=='C1'"}],"mark":{"type":"line","strokeWidth":1.2},"encoding":{"x":{"field":"t","type":"quantitative"},"y":{"field":"v","type":"quantitative"},"color":{"field":"s","type":"nominal","scale":{"domain":["G'","G''"],"range":["#4472c4","#ed7d31"]},"legend":{"orient":"none","legendX":175,"legendY":96,"title":null,"symbolType":"stroke"}}}},
    {"data":{"name":"cur"},"transform":[{"filter":"datum.p=='C1'"}],"mark":{"type":"point","filled":true,"opacity":1,"size":12},"encoding":{"x":{"field":"t","type":"quantitative"},"y":{"field":"v","type":"quantitative"},"color":{"field":"s","type":"nominal"},"shape":{"field":"s","type":"nominal","scale":{"domain":["G'","G''"],"range":["cross","square"]},"legend":null}}},
    {"data":{"name":"arr"},"transform":[{"filter":"datum.p=='C1'"}],"mark":{"type":"point","shape":"M-1,-0.1L0.55,-0.1L0.55,-0.24L1,0L0.55,0.24L0.55,0.1L-1,0.1Z","size":2500,"filled":true,"fill":"#8497b0","stroke":"#5f7594","strokeWidth":0.8,"opacity":1,"clip":false},"encoding":{"x":{"field":"t","type":"quantitative"},"y":{"field":"v","type":"quantitative"}}}
   ]},
  {"width":178,"height":128,"title":"AG/SP gel","view":{"fill":"#e8edf6"},
   "layer":[
    {"data":{"name":"cur"},"transform":[{"filter":"datum.p=='C2' && datum.h != null"}],"mark":{"type":"rule","color":"#9a9a9a","strokeWidth":0.6},
     "encoding":{"x":{"field":"t","type":"quantitative","scale":{"domain":[20,50],"nice":false},"axis":{"values":[20,30,40,50],"grid":false,"tickSize":3,"labelPadding":2},"title":"Temperature °C"},
      "y":{"field":"v","type":"quantitative","scale":{"type":"log","domain":[100,1000000]},"axis":{"values":[100,1000,10000,100000,1000000],"format":"d","grid":true,"tickSize":3,"titlePadding":-6},"title":"G', G'' (Pa)"},"y2":{"field":"h"}}},
    {"data":{"name":"cur"},"transform":[{"filter":"datum.p=='C2'"}],"mark":{"type":"line","strokeWidth":1.2},"encoding":{"x":{"field":"t","type":"quantitative"},"y":{"field":"v","type":"quantitative"},"color":{"field":"s","type":"nominal","scale":{"domain":["G'","G''"],"range":["#4472c4","#ed7d31"]},"legend":{"orient":"none","legendX":180,"legendY":91,"title":null,"symbolType":"stroke"}}}},
    {"data":{"name":"cur"},"transform":[{"filter":"datum.p=='C2'"}],"mark":{"type":"point","filled":true,"opacity":1,"size":12},"encoding":{"x":{"field":"t","type":"quantitative"},"y":{"field":"v","type":"quantitative"},"color":{"field":"s","type":"nominal"},"shape":{"field":"s","type":"nominal","scale":{"domain":["G'","G''"],"range":["cross","square"]},"legend":null}}},
    {"data":{"name":"arr"},"transform":[{"filter":"datum.p=='C2'"}],"mark":{"type":"point","shape":"M-1,-0.1L0.55,-0.1L0.55,-0.24L1,0L0.55,0.24L0.55,0.1L-1,0.1Z","size":2500,"filled":true,"fill":"#8497b0","stroke":"#5f7594","strokeWidth":0.8,"opacity":1,"clip":false},"encoding":{"x":{"field":"t","type":"quantitative"},"y":{"field":"v","type":"quantitative"}}}
   ]}
 ],"spacing":14,"resolve":{"scale":{"color":"independent","shape":"independent"},"legend":{"color":"independent","shape":"independent"}}},
 {"hconcat":[
  {"width":166,"height":137,"title":"AG/CH gel","view":{"fill":"#e8edf6"},
   "layer":[
    {"data":{"name":"cur"},"transform":[{"filter":"datum.p=='C3' && datum.h != null"}],"mark":{"type":"rule","color":"#9a9a9a","strokeWidth":0.6},
     "encoding":{"x":{"field":"t","type":"quantitative","scale":{"domain":[20,50],"nice":false},"axis":{"values":[20,30,40,50],"grid":false,"tickSize":3,"labelPadding":2},"title":"Temperature °C"},
      "y":{"field":"v","type":"quantitative","scale":{"type":"log","domain":[100,1000000]},"axis":{"values":[100,1000,10000,100000,1000000],"format":"d","grid":true,"tickSize":3,"titlePadding":-6},"title":"G', G'' (Pa)"},"y2":{"field":"h"}}},
    {"data":{"name":"cur"},"transform":[{"filter":"datum.p=='C3'"}],"mark":{"type":"line","strokeWidth":1.2},"encoding":{"x":{"field":"t","type":"quantitative"},"y":{"field":"v","type":"quantitative"},"color":{"field":"s","type":"nominal","scale":{"domain":["G'","G''"],"range":["#4472c4","#ed7d31"]},"legend":{"orient":"none","legendX":168,"legendY":88,"title":null,"symbolType":"stroke"}}}},
    {"data":{"name":"cur"},"transform":[{"filter":"datum.p=='C3'"}],"mark":{"type":"point","filled":true,"opacity":1,"size":12},"encoding":{"x":{"field":"t","type":"quantitative"},"y":{"field":"v","type":"quantitative"},"color":{"field":"s","type":"nominal"},"shape":{"field":"s","type":"nominal","scale":{"domain":["G'","G''"],"range":["cross","square"]},"legend":null}}},
    {"data":{"name":"arr"},"transform":[{"filter":"datum.p=='C3'"}],"mark":{"type":"point","shape":"M-1,-0.1L0.55,-0.1L0.55,-0.24L1,0L0.55,0.24L0.55,0.1L-1,0.1Z","size":2500,"filled":true,"fill":"#8497b0","stroke":"#5f7594","strokeWidth":0.8,"opacity":1,"clip":false},"encoding":{"x":{"field":"t","type":"quantitative"},"y":{"field":"v","type":"quantitative"}}}
   ]},
  {"width":181,"height":141,"title":"AG/CH/SP gel","view":{"fill":"#e8edf6"},
   "layer":[
    {"data":{"name":"cur"},"transform":[{"filter":"datum.p=='C4' && datum.h != null"}],"mark":{"type":"rule","color":"#9a9a9a","strokeWidth":0.6},
     "encoding":{"x":{"field":"t","type":"quantitative","scale":{"domain":[20,50],"nice":false},"axis":{"values":[20,30,40,50],"grid":false,"tickSize":3,"labelPadding":2},"title":"Temperature °C"},
      "y":{"field":"v","type":"quantitative","scale":{"type":"log","domain":[100,1000000]},"axis":{"values":[100,1000,10000,100000,1000000],"format":"d","grid":true,"tickSize":3,"titlePadding":-6},"title":"G', G'' (Pa)"},"y2":{"field":"h"}}},
    {"data":{"name":"cur"},"transform":[{"filter":"datum.p=='C4'"}],"mark":{"type":"line","strokeWidth":1.2},"encoding":{"x":{"field":"t","type":"quantitative"},"y":{"field":"v","type":"quantitative"},"color":{"field":"s","type":"nominal","scale":{"domain":["G'","G''"],"range":["#4472c4","#ed7d31"]},"legend":{"orient":"none","legendX":183,"legendY":90,"title":null,"symbolType":"stroke"}}}},
    {"data":{"name":"cur"},"transform":[{"filter":"datum.p=='C4'"}],"mark":{"type":"point","filled":true,"opacity":1,"size":12},"encoding":{"x":{"field":"t","type":"quantitative"},"y":{"field":"v","type":"quantitative"},"color":{"field":"s","type":"nominal"},"shape":{"field":"s","type":"nominal","scale":{"domain":["G'","G''"],"range":["cross","square"]},"legend":null}}},
    {"data":{"name":"arr"},"transform":[{"filter":"datum.p=='C4'"}],"mark":{"type":"point","shape":"M-1,-0.1L0.55,-0.1L0.55,-0.24L1,0L0.55,0.24L0.55,0.1L-1,0.1Z","size":2500,"filled":true,"fill":"#8497b0","stroke":"#5f7594","strokeWidth":0.8,"opacity":1,"clip":false},"encoding":{"x":{"field":"t","type":"quantitative"},"y":{"field":"v","type":"quantitative"}}}
   ]}
 ],"spacing":14,"resolve":{"scale":{"color":"independent","shape":"independent"},"legend":{"color":"independent","shape":"independent"}}}
 ]}
 ]}
],
"config":{
 "font":"Liberation Serif",
 "view":{"stroke":null},
 "concat":{"spacing":10},
 "axis":{"labelFont":"Liberation Serif","titleFont":"Liberation Serif","labelFontWeight":"bold","titleFontWeight":"bold","labelColor":"#000000","titleColor":"#000000","labelFontSize":10,"titleFontSize":10.5,"domainColor":"#808080","tickColor":"#808080","gridColor":"#d3d9e3","gridWidth":0.6,"titlePadding":3},
 "legend":{"labelFont":"Liberation Serif","labelFontWeight":"bold","labelFontSize":9.5,"labelColor":"#000000","symbolStrokeWidth":1.5,"symbolSize":40,"rowPadding":1,"labelOffset":2,"padding":0},
 "title":{"font":"Liberation Serif","fontWeight":"bold","fontSize":12,"color":"#000000","offset":4}
}
}
